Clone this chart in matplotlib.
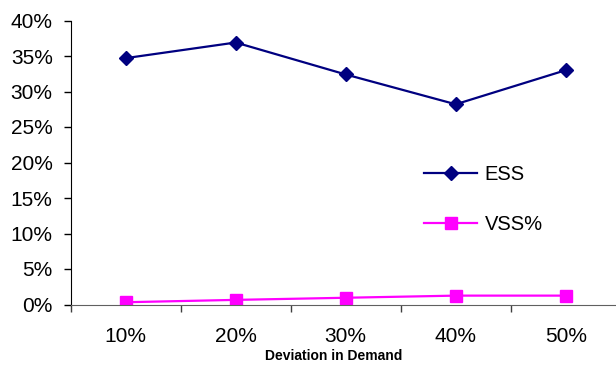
import matplotlib
matplotlib.use("Agg")
import matplotlib.pyplot as plt
from matplotlib.ticker import FixedLocator, FuncFormatter

# Data
categories = ["10%", "20%", "30%", "40%", "50%"]
ess = [34.7, 36.9, 32.4, 28.2, 33.0]
vss_pct = [0.32, 0.65, 0.95, 1.25, 1.25]
y_ticks = [0, 5, 10, 15, 20, 25, 30, 35, 40]

plt.rcParams["font.family"] = ["Liberation Sans", "DejaVu Sans"]

fig = plt.figure(figsize=(6.16, 3.68), dpi=100)
ax = fig.add_axes([70.7 / 616, 63.5 / 368, 550.0 / 616, 284.0 / 368])

x = list(range(len(categories)))
ax.plot(x, [v / 100 for v in ess], color="#000080", lw=1.6, marker="D",
        markersize=7, markerfacecolor="#000080", markeredgecolor="#000080",
        label="ESS")
ax.plot(x, [v / 100 for v in vss_pct], color="#FF00FF", lw=1.6, marker="s",
        markersize=8, markerfacecolor="#FF00FF", markeredgecolor="#FF00FF",
        label="VSS%")

ax.set_xlim(-0.5, len(categories) - 0.5)
ax.set_ylim(0, 0.40)

# category boundaries carry tick marks, labels sit at category centres
ax.xaxis.set_major_locator(FixedLocator([i - 0.5 for i in range(len(categories) + 1)]))
ax.xaxis.set_major_formatter(FuncFormatter(lambda v, p: ""))
ax.xaxis.set_minor_locator(FixedLocator(x))
ax.xaxis.set_minor_formatter(FuncFormatter(lambda v, p: categories[int(round(v))]))
ax.tick_params(axis="x", which="major", length=5, width=1, color="#404040", direction="out")
ax.tick_params(axis="x", which="minor", length=0, pad=16, labelsize=15)

ax.yaxis.set_major_locator(FixedLocator([t / 100 for t in y_ticks]))
ax.yaxis.set_major_formatter(FuncFormatter(lambda v, p: f"{v * 100:.0f}%"))
ax.tick_params(axis="y", length=5, width=1, color="black", direction="out",
               pad=8, labelsize=15)

ax.spines["top"].set_visible(False)
ax.spines["right"].set_visible(False)
ax.spines["left"].set_color("black")
ax.spines["bottom"].set_color("#606060")

ax.set_xlabel("Deviation in Demand", fontsize=10, fontweight="bold")
ax.xaxis.set_label_coords(0.479, -0.158)

ax.legend(loc="upper left", bbox_to_anchor=(0.61, 0.555), frameon=False,
          fontsize=14.5, handlelength=2.6, labelspacing=1.55, handletextpad=0.4)

fig.savefig("out.png", dpi=100)
